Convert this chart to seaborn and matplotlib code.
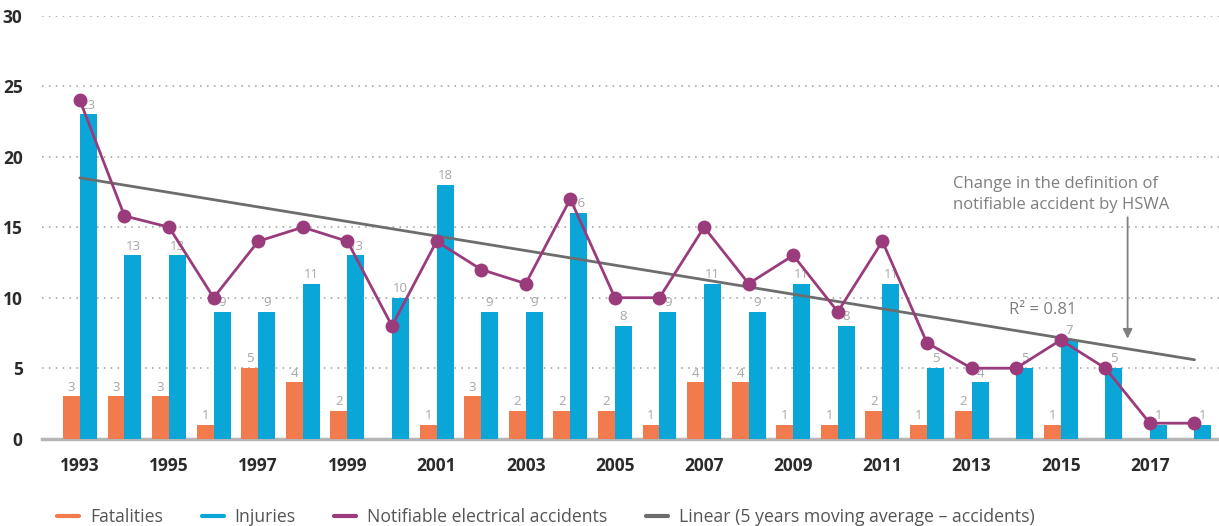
"""
Electrical accidents 1993-2018: fatalities, injuries, notifiable accidents
and the linear trend of the 5-year moving average.
"""

import numpy as np
import pandas as pd
import matplotlib
matplotlib.use("Agg")
import matplotlib.pyplot as plt
from matplotlib.lines import Line2D
import seaborn as sns

# ---------------------------------------------------------------------------
# DATA
# ---------------------------------------------------------------------------
years = list(range(1993, 2019))
fatalities = [3, 3, 3, 1, 5, 4, 2, 0, 1, 3, 2, 2, 2, 1, 4, 4, 1, 1, 2, 1, 2, 0, 1, 0, 0, 0]
injuries = [23, 13, 13, 9, 9, 11, 13, 10, 18, 9, 9, 16, 8, 9, 11, 9, 11, 8, 11, 5, 4, 5, 7, 5, 1, 1]
accidents = [24, 15.8, 15, 10, 14, 15, 14, 8, 14, 12, 11, 17, 10, 10, 15, 11, 13, 9, 14, 6.8,
             5, 5, 7, 5, 1.1, 1.1]
trend_years = [1993, 2018]
trend_values = [18.5, 5.6]
tick_years = list(range(1993, 2018, 2))

series_names = ["Fatalities", "Injuries", "Notifiable electrical accidents",
                "Linear (5 years moving average \u2013 accidents)"]

# ---------------------------------------------------------------------------
# STYLE
# ---------------------------------------------------------------------------
C_FAT = "#F27B4D"
C_INJ = "#0AA6D8"
C_ACC = "#9A3C7C"
C_TREND = "#6D6D6D"
C_LABEL = "#A6A6A6"

sns.set_theme(style="white")
plt.rcParams["font.family"] = ["Open Sans", "DejaVu Sans"]

fig = plt.figure(figsize=(12.19, 5.26), dpi=100)
ax = fig.add_axes([42 / 1219, 1 - 438.7 / 526, 1 - 42 / 1219, (438.7 - 15.7) / 526])

year_str = [str(y) for y in years]
bars_df = pd.DataFrame({
    "year": year_str * 2,
    "value": fatalities + injuries,
    "series": ["Fatalities"] * len(years) + ["Injuries"] * len(years),
})

sns.barplot(data=bars_df, x="year", y="value", hue="series", order=year_str,
            palette={"Fatalities": C_FAT, "Injuries": C_INJ}, width=0.76,
            saturation=1, legend=False, ax=ax, zorder=2, linewidth=0)

# value labels above bars (zero values left blank)
for cont in ax.containers:
    labels = [f"{b.get_height():.0f}" if b.get_height() > 0 else "" for b in cont]
    ax.bar_label(cont, labels=labels, padding=2, color=C_LABEL, fontsize=9.5, zorder=3)

# trend line
pos = {y: i for i, y in enumerate(years)}
sns.lineplot(x=[pos[y] for y in trend_years], y=trend_values, color=C_TREND,
             linewidth=2.0, ax=ax, zorder=4)

# notifiable accidents line
sns.lineplot(x=[pos[y] for y in years], y=accidents, color=C_ACC, linewidth=2.0,
             marker="o", markersize=10, markeredgewidth=0, ax=ax, zorder=5)
for ln in ax.lines[-1:]:
    ln.set_clip_on(False)

# annotations
ax.text(pos[2014] + 0.6, 9.1, "R\u00b2 = 0.81", color="#7F7F7F", fontsize=12,
        ha="center", va="center")
ax.text(pos[2013] - 0.42, 17.3, "Change in the definition of\nnotifiable accident by HSWA",
        color="#7F7F7F", fontsize=12, ha="left", va="center", linespacing=1.4)
ax.annotate("", xy=(pos[2016] + 0.5, 6.9), xytext=(pos[2016] + 0.5, 15.9),
            arrowprops=dict(arrowstyle="-|>", color="#7F7F7F", lw=1.3,
                            mutation_scale=14))

# axes
ax.set_ylim(0, 30)
ax.set_xlim(-0.85, 25.55)
ax.set_yticks(range(0, 31, 5))
ax.set_xticks([pos[y] for y in tick_years])
ax.set_xticklabels([str(y) for y in tick_years])
ax.set_xlabel("")
ax.set_ylabel("")
ax.tick_params(axis="both", length=0, labelsize=12.5, labelcolor="#2B2B2B")
ax.tick_params(axis="x", pad=13)
ax.tick_params(axis="y", pad=14)
for lab in ax.get_xticklabels() + ax.get_yticklabels():
    lab.set_fontweight("bold")

ax.yaxis.grid(True, color="#9C9C9C", linestyle=(0, (1, 3.5)), linewidth=1.1)
ax.set_axisbelow(True)
for s in ["left", "right", "top"]:
    ax.spines[s].set_visible(False)
ax.spines["bottom"].set_color("#B5B5B5")
ax.spines["bottom"].set_linewidth(2.5)
ax.spines["bottom"].set_zorder(1)

# legend
handles = [Line2D([], [], color=c, lw=3) for c in [C_FAT, C_INJ, C_ACC, C_TREND]]
leg = fig.legend(handles, series_names, loc="lower left", bbox_to_anchor=(0.034, -0.03),
                 ncol=4, frameon=False, handlelength=1.25, handletextpad=0.6,
                 columnspacing=2.2, fontsize=12.7)
for t in leg.get_texts():
    t.set_color("#555555")

fig.savefig("out.png", dpi=100)
